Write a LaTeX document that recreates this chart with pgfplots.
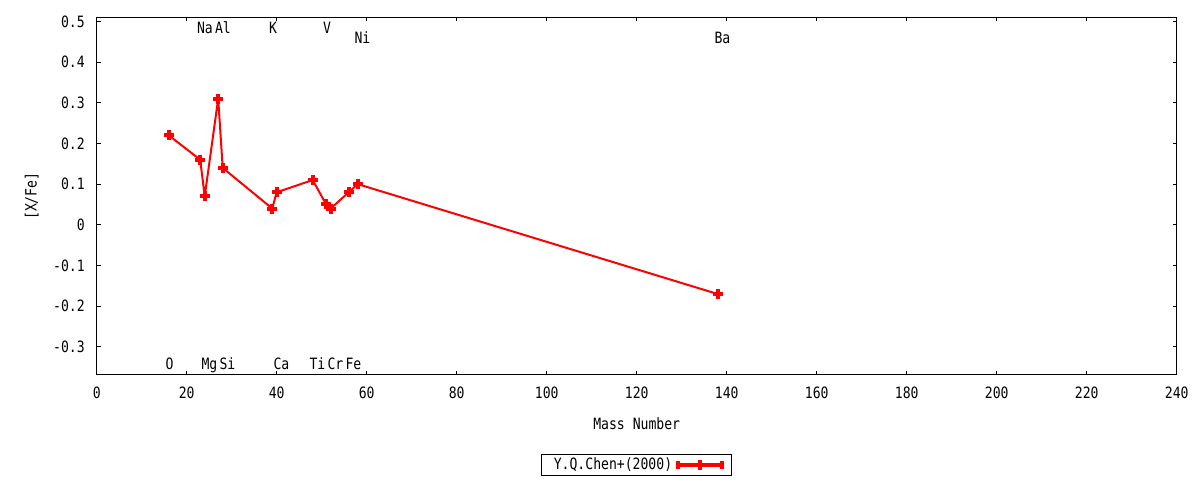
\documentclass[border=0pt]{standalone}
\usepackage{fontspec}
\setmainfont{DejaVu Sans Mono}[FakeStretch=0.84]
\usepackage{pgfplots}
\pgfplotsset{compat=1.18}
\begin{document}
\fontsize{7.8pt}{9pt}\selectfont
\begin{tikzpicture}
\useasboundingbox (0,0) rectangle (600pt,240pt);
\begin{axis}[
  at={(48.35pt,52.5pt)}, anchor=south west,
  scale only axis, width=540pt, height=178.85pt,
  xmin=0, xmax=240, ymin=-0.369, ymax=0.51,
  xtick={0,20,...,240},
  xticklabels={0,20,40,60,80,100,120,140,160,180,200,220,240},
  ytick={-0.3,-0.2,-0.1,0,0.1,0.2,0.3,0.4,0.5},
  yticklabels={-0.3,-0.2,-0.1,0,0.1,0.2,0.3,0.4,0.5},
  tick align=inside, major tick length=2pt,
  axis line style={line width=0.5pt},
  every tick/.style={black, line width=0.5pt},
  xticklabel style={inner sep=0pt, anchor=north, yshift=-5.8pt},
  yticklabel style={inner sep=0pt, anchor=east, xshift=-5.8pt},
  xlabel={Mass Number},
  ylabel={[X/Fe]},
  xlabel style={at={(axis description cs:0.5,-0.137)}, anchor=center, inner sep=0pt},
  ylabel style={at={(axis description cs:-0.0602,0.5)}, anchor=center, inner sep=0pt},
  legend style={at={(axis description cs:0.5,-0.2516)}, anchor=center,
    draw=black, line width=0.5pt, inner xsep=4pt, inner ysep=0pt,
    nodes={inner ysep=1.5pt},
    font=\fontsize{7.8pt}{9pt}\selectfont},
  legend plot pos=right,
  legend cell align=right,
  legend image code/.code={
    \draw[red, line width=2pt] (1pt,0pt) -- (22.7pt,0pt);
    \draw[red, line width=2pt] (1pt,-2pt) -- (1pt,2pt);
    \draw[red, line width=2pt] (22.7pt,-2pt) -- (22.7pt,2pt);
    \draw[red, line width=2pt] (11.85pt,-2.5pt) -- (11.85pt,2.5pt);
  },
]
\addplot[red, line width=1pt, line join=round, mark=+, mark size=2.5pt, mark options={line width=2pt}]
  coordinates {
  (16,0.22) (23,0.16) (24,0.07) (27,0.31) (28,0.14)
  (39,0.04) (40,0.08) (48,0.11) (51,0.05) (52,0.04)
  (56,0.08) (58,0.10) (138,-0.17)
  };
\addlegendentry{Y.Q.Chen+(2000)}
% element labels
\begin{scope}[every node/.style={anchor=base west, inner sep=0pt, xshift=-1.8pt}]
\node at (axis cs:23,0.470) {Na};
\node at (axis cs:27,0.470) {Al};
\node at (axis cs:39,0.470) {K};
\node at (axis cs:51,0.470) {V};
\node at (axis cs:58,0.446) {Ni};
\node at (axis cs:138,0.446) {Ba};
\node at (axis cs:16,-0.355) {O};
\node at (axis cs:24,-0.355) {Mg};
\node at (axis cs:28,-0.355) {Si};
\node at (axis cs:40,-0.355) {Ca};
\node at (axis cs:48,-0.355) {Ti};
\node at (axis cs:52,-0.355) {Cr};
\node at (axis cs:56,-0.355) {Fe};
\end{scope}
\end{axis}
\end{tikzpicture}
\end{document}
